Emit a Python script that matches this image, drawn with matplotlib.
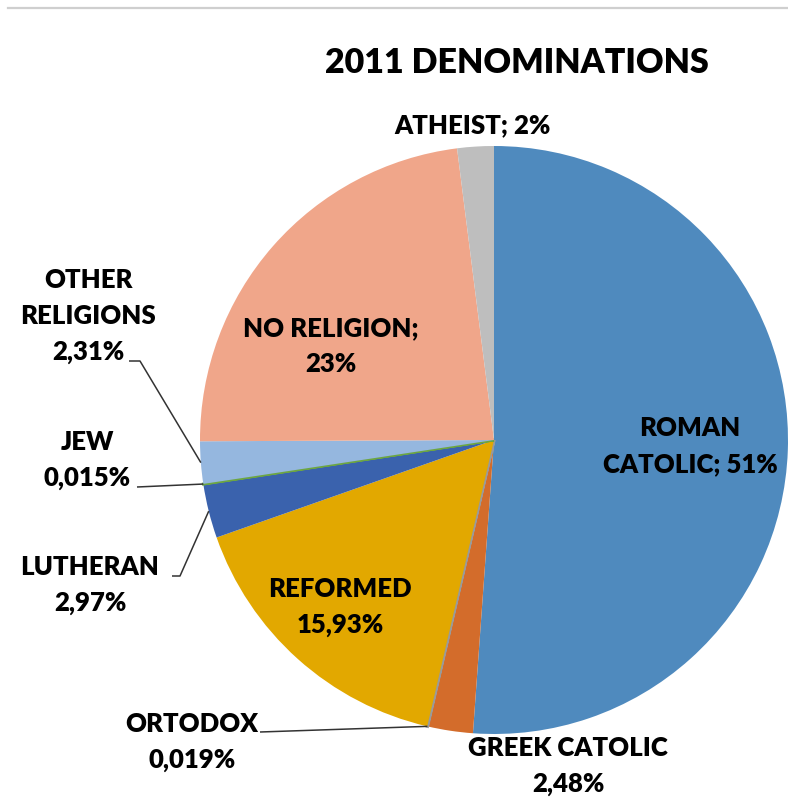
import matplotlib
matplotlib.use("Agg")
import matplotlib.pyplot as plt
import numpy as np

categories = ["ROMAN CATOLIC", "GREEK CATOLIC", "ORTODOX", "REFORMED", "LUTHERAN",
              "JEW", "OTHER RELIGIONS", "NO RELIGION", "ATHEIST"]
values = [51, 2.48, 0.019, 15.93, 2.97, 0.015, 2.31, 23, 2]
label_texts = ["ROMAN\nCATOLIC; 51%", "GREEK CATOLIC\n2,48%", "ORTODOX\n0,019%",
               "REFORMED\n15,93%", "LUTHERAN\n2,97%", "JEW\n0,015%",
               "OTHER\nRELIGIONS\n2,31%", "NO RELIGION;\n23%", "ATHEIST; 2%"]
colors = ["#4F8ABE", "#D36C2B", "#9A9A9A", "#E2A800", "#3A62AD",
          "#6CA544", "#95B7DF", "#F0A68A", "#BEBEBE"]

W, H = 788, 805
CX, CY, R = 494, 440, 294

fig = plt.figure(figsize=(W / 100, H / 100), dpi=100)
ax = fig.add_axes([0, 0, 1, 1])

def P(px, py):
    return ((px - CX) / R, (CY - py) / R)

wedges, _ = ax.pie(values, colors=colors, startangle=90, counterclock=False,
                   radius=1, center=(0, 0), wedgeprops=dict(linewidth=0))
ax.set_xlim(-CX / R, (W - CX) / R)
ax.set_ylim(-(H - CY) / R, CY / R)
ax.set_aspect("equal")
ax.axis("off")
# tiny slices get a visible edge
wedges[2].set_edgecolor(colors[2]); wedges[2].set_linewidth(2.2)
wedges[5].set_edgecolor(colors[5]); wedges[5].set_linewidth(2.0)

font = dict(family=["Lato", "DejaVu Sans"], fontweight="heavy", color="black")
fs = 18.5

# label positions (pixel coords)
label_pos = {
    "ROMAN CATOLIC": (690, 446),
    "GREEK CATOLIC": (568, 766),
    "ORTODOX": (192, 742),
    "REFORMED": (340, 607),
    "LUTHERAN": (90, 585),
    "JEW": (87, 460),
    "OTHER RELIGIONS": (88, 316),
    "NO RELIGION": (331, 346),
    "ATHEIST": (473, 125),
}
for cat, txt in zip(categories, label_texts):
    x, y = P(*label_pos[cat])
    ax.text(x, y, txt, ha="center", va="center", fontsize=fs,
            linespacing=1.6, **font)

def edge_point(i):
    w = wedges[i]
    ang = np.deg2rad((w.theta1 + w.theta2) / 2)
    return np.cos(ang), np.sin(ang)

# leader lines: list of pixel points then wedge edge
leaders = {
    "OTHER RELIGIONS": [(129, 361), (140, 361)],
    "JEW": [(137, 487)],
    "LUTHERAN": [(172, 576), (180, 576)],
    "ORTODOX": [(260, 732)],
}
for cat, pts in leaders.items():
    i = categories.index(cat)
    xs = [P(*p)[0] for p in pts]
    ys = [P(*p)[1] for p in pts]
    ex, ey = edge_point(i)
    xs.append(ex); ys.append(ey)
    ax.plot(xs, ys, color="#333333", lw=1.1, solid_capstyle="butt")

tx, ty = P(517, 63)
ax.text(tx, ty, "2011 DENOMINATIONS", ha="center", va="center",
        fontsize=24.5, **font)

# top separator line
fig.add_artist(plt.Line2D([8 / W, 1], [1 - 8.5 / H, 1 - 8.5 / H],
                          color="#CFCFCF", lw=1.6, transform=fig.transFigure))

fig.savefig("out.png", dpi=100, facecolor="white")
